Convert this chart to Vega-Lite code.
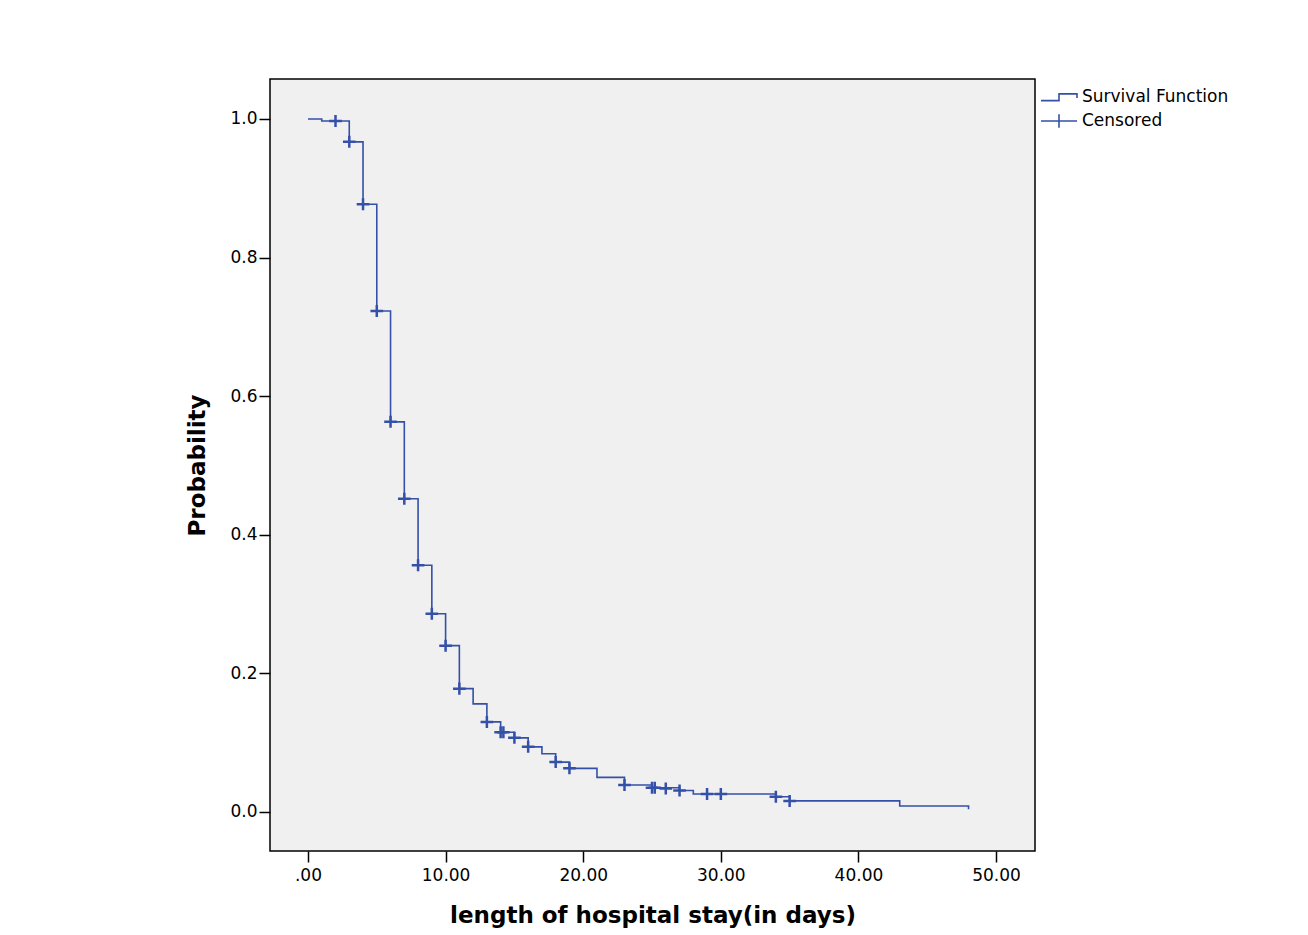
{
  "$schema": "https://vega.github.io/schema/vega-lite/v6.json",
  "width": 765,
  "height": 772,
  "autosize": {"type": "none"},
  "padding": {"left": 270, "top": 79, "right": 273, "bottom": 84},
  "background": "white",
  "config": {
    "view": {"fill": "#f0f0f0", "stroke": "#000000", "strokeWidth": 1.5},
    "axis": {
      "grid": false,
      "domain": false,
      "tickColor": "#000000",
      "tickWidth": 1.5,
      "tickSize": 11,
      "labelColor": "#000000",
      "labelFont": "DejaVu Sans",
      "labelFontSize": 17,
      "titleColor": "#000000",
      "titleFont": "DejaVu Sans",
      "titleFontWeight": "bold",
      "titleFontSize": 23
    },
    "legend": {
      "labelFont": "DejaVu Sans",
      "labelFontSize": 17,
      "labelColor": "#000000"
    }
  },
  "datasets": {
    "curve": [
      {"days": 0, "surv": 1.0},
      {"days": 1, "surv": 0.997},
      {"days": 3, "surv": 0.967},
      {"days": 4, "surv": 0.877},
      {"days": 5, "surv": 0.723},
      {"days": 6, "surv": 0.563},
      {"days": 7, "surv": 0.452},
      {"days": 8, "surv": 0.356},
      {"days": 9, "surv": 0.286},
      {"days": 10, "surv": 0.24},
      {"days": 11, "surv": 0.178},
      {"days": 12, "surv": 0.156},
      {"days": 13, "surv": 0.13},
      {"days": 14, "surv": 0.115},
      {"days": 15, "surv": 0.107},
      {"days": 16, "surv": 0.094},
      {"days": 17, "surv": 0.084},
      {"days": 18, "surv": 0.072},
      {"days": 19, "surv": 0.063},
      {"days": 21, "surv": 0.05},
      {"days": 23, "surv": 0.039},
      {"days": 25, "surv": 0.035},
      {"days": 27, "surv": 0.031},
      {"days": 28, "surv": 0.026},
      {"days": 34, "surv": 0.022},
      {"days": 35, "surv": 0.016},
      {"days": 43, "surv": 0.0087},
      {"days": 48, "surv": 0.004}
    ],
    "censored": [
      {"days": 2, "surv": 0.997, "series": "Censored"},
      {"days": 3, "surv": 0.967, "series": "Censored"},
      {"days": 4, "surv": 0.877, "series": "Censored"},
      {"days": 5, "surv": 0.723, "series": "Censored"},
      {"days": 6, "surv": 0.563, "series": "Censored"},
      {"days": 7, "surv": 0.452, "series": "Censored"},
      {"days": 8, "surv": 0.356, "series": "Censored"},
      {"days": 9, "surv": 0.286, "series": "Censored"},
      {"days": 10, "surv": 0.24, "series": "Censored"},
      {"days": 11, "surv": 0.178, "series": "Censored"},
      {"days": 13, "surv": 0.13, "series": "Censored"},
      {"days": 14, "surv": 0.115, "series": "Censored"},
      {"days": 14.2, "surv": 0.115, "series": "Censored"},
      {"days": 15, "surv": 0.107, "series": "Censored"},
      {"days": 16, "surv": 0.094, "series": "Censored"},
      {"days": 18, "surv": 0.072, "series": "Censored"},
      {"days": 19, "surv": 0.063, "series": "Censored"},
      {"days": 23, "surv": 0.039, "series": "Censored"},
      {"days": 25, "surv": 0.035, "series": "Censored"},
      {"days": 25.2, "surv": 0.035, "series": "Censored"},
      {"days": 26, "surv": 0.034, "series": "Censored"},
      {"days": 27, "surv": 0.031, "series": "Censored"},
      {"days": 29, "surv": 0.026, "series": "Censored"},
      {"days": 30, "surv": 0.026, "series": "Censored"},
      {"days": 34, "surv": 0.022, "series": "Censored"},
      {"days": 35, "surv": 0.016, "series": "Censored"}
    ]
  },
  "encoding": {
    "x": {
      "field": "days",
      "type": "quantitative",
      "scale": {"domain": [-2.76, 52.83], "nice": false, "zero": false},
      "axis": {
        "title": "length of hospital stay(in days)",
        "values": [0, 10, 20, 30, 40, 50],
        "labelExpr": "datum.value == 0 ? '.00' : format(datum.value, '.2f')",
        "labelPadding": 5,
        "titlePadding": 21
      }
    },
    "y": {
      "field": "surv",
      "type": "quantitative",
      "scale": {"domain": [-0.0563, 1.0577], "nice": false, "zero": false},
      "axis": {
        "title": "Probability",
        "values": [0, 0.2, 0.4, 0.6, 0.8, 1.0],
        "format": ".1f",
        "labelPadding": 2,
        "titlePadding": 20
      }
    }
  },
  "layer": [
    {
      "data": {"name": "curve"},
      "mark": {"type": "line", "interpolate": "step-after", "color": "#3450a8", "strokeWidth": 1.6}
    },
    {
      "data": {"name": "censored"},
      "mark": {"type": "point", "filled": false, "color": "#3450a8", "strokeWidth": 2.5, "size": 160, "opacity": 1, "shape": "M-1,0H1M0,-0.95V0.95"}
    },
    {
      "data": {"name": "censored"},
      "mark": {"type": "point", "filled": false, "color": "#3450a8", "strokeOpacity": 0, "fillOpacity": 0, "size": 10},
      "encoding": {
        "shape": {
          "field": "series",
          "type": "nominal",
          "scale": {
            "domain": ["Survival Function", "Censored"],
            "range": ["M-2,0.4H0V-0.35H2V0.1", "M-2,0H2M0,-0.75V0.75"]
          },
          "legend": {
            "title": null,
            "orient": "none",
            "legendX": 779,
            "legendY": 8,
            "symbolSize": 324,
            "symbolStrokeColor": "#3450a8",
            "symbolFillColor": "transparent",
            "symbolStrokeWidth": 1.6,
            "symbolOpacity": 1,
            "symbolOffset": 0,
            "labelOffset": 13,
            "rowPadding": 6,
            "padding": 0
          }
        }
      }
    }
  ]
}
